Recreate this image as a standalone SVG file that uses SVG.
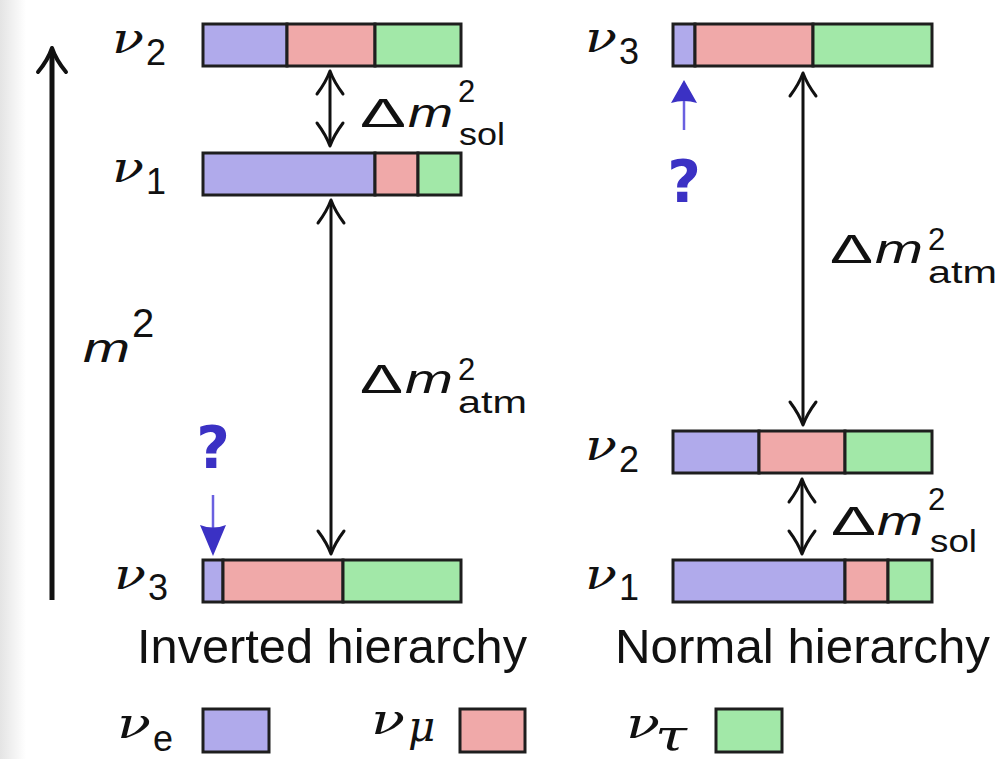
<svg xmlns="http://www.w3.org/2000/svg" width="1004" height="759" viewBox="0 0 1004 759">
<defs>
<linearGradient id="shade" x1="0" y1="0" x2="1" y2="0">
<stop offset="0" stop-color="#e4e4e4"/>
<stop offset="1" stop-color="#ffffff"/>
</linearGradient>
<style>
.b{fill:#b0aaeb;stroke:#1e1e1e;stroke-width:3}
.r{fill:#f0a9a9;stroke:#1e1e1e;stroke-width:3}
.g{fill:#a2e8a8;stroke:#1e1e1e;stroke-width:3}
.nu{font-family:"DejaVu Serif","Liberation Serif",serif;font-style:italic;font-size:42px;fill:#111}
.sub{font-family:"Liberation Sans",sans-serif;font-size:36px;fill:#111}
.big{font-family:"Liberation Sans",sans-serif;font-size:40px;fill:#111}
.it{font-family:"Liberation Sans",sans-serif;font-style:italic;font-size:40px;fill:#111}
.sm{font-family:"Liberation Sans",sans-serif;font-size:31px;fill:#111}
.cap{font-family:"Liberation Sans",sans-serif;font-size:48px;fill:#111}
.q{font-family:"DejaVu Sans",sans-serif;font-weight:bold;font-size:58px;fill:#3b31c4;text-anchor:middle}
.ln{fill:none;stroke:#111;stroke-width:3}
.hd{fill:none;stroke:#111;stroke-width:3;stroke-linejoin:round;stroke-linecap:round}
.bl{fill:none;stroke:#6a60e0;stroke-width:2.5}
.bh{fill:#3b31c4;stroke:none}
</style>
</defs>
<rect x="0" y="0" width="1004" height="759" fill="#ffffff"/>
<rect x="0" y="0" width="26" height="759" fill="url(#shade)"/>

<g id="axis">
<line x1="52" y1="52" x2="52" y2="600" stroke="#111" stroke-width="5"/>
<path d="M38,72 Q48,60 52,48 Q56,60 66,72" fill="none" stroke="#111" stroke-width="4" stroke-linejoin="round" stroke-linecap="round"/>
<text class="it" x="83" y="362" font-size="54" textLength="47" lengthAdjust="spacingAndGlyphs">m</text>
<text class="big" x="132" y="337">2</text>
</g>

<g id="IH-nu2">
<rect class="b" x="203" y="24" width="84" height="42"/>
<rect class="r" x="287" y="24" width="88" height="42"/>
<rect class="g" x="375" y="24" width="86" height="42"/>
<text class="nu" x="112" y="53" textLength="32" lengthAdjust="spacingAndGlyphs">ν</text>
<text class="sub" x="146" y="65">2</text>
</g>
<g id="IH-nu1">
<rect class="b" x="203" y="153" width="172" height="42"/>
<rect class="r" x="375" y="153" width="43" height="42"/>
<rect class="g" x="418" y="153" width="43" height="42"/>
<text class="nu" x="112" y="182" textLength="32" lengthAdjust="spacingAndGlyphs">ν</text>
<text class="sub" x="146" y="194">1</text>
</g>
<g id="IH-nu3">
<rect class="b" x="203" y="560" width="20" height="42"/>
<rect class="r" x="223" y="560" width="120" height="42"/>
<rect class="g" x="343" y="560" width="118" height="42"/>
<text class="nu" x="114" y="589" textLength="32" lengthAdjust="spacingAndGlyphs">ν</text>
<text class="sub" x="148" y="600">3</text>
</g>

<g id="NH-nu3">
<rect class="b" x="673" y="24" width="22" height="42"/>
<rect class="r" x="695" y="24" width="118" height="42"/>
<rect class="g" x="813" y="24" width="119" height="42"/>
<text class="nu" x="585" y="52" textLength="32" lengthAdjust="spacingAndGlyphs">ν</text>
<text class="sub" x="619" y="64">3</text>
</g>
<g id="NH-nu2">
<rect class="b" x="673" y="431" width="86" height="42"/>
<rect class="r" x="759" y="431" width="86" height="42"/>
<rect class="g" x="845" y="431" width="87" height="42"/>
<text class="nu" x="585" y="460" textLength="32" lengthAdjust="spacingAndGlyphs">ν</text>
<text class="sub" x="619" y="472">2</text>
</g>
<g id="NH-nu1">
<rect class="b" x="673" y="560" width="172" height="42"/>
<rect class="r" x="845" y="560" width="43" height="42"/>
<rect class="g" x="888" y="560" width="44" height="42"/>
<text class="nu" x="585" y="589" textLength="32" lengthAdjust="spacingAndGlyphs">ν</text>
<text class="sub" x="619" y="600">1</text>
</g>

<g id="connectors">
<line class="ln" x1="330" y1="72" x2="330" y2="145"/>
<path class="hd" d="M317,94 Q326,82 330,71 Q334,82 343,94"/>
<path class="hd" d="M317,123 Q326,135 330,146 Q334,135 343,123"/>

<line class="ln" x1="331" y1="201" x2="331" y2="553"/>
<path class="hd" d="M318,223 Q327,211 331,200 Q335,211 344,223"/>
<path class="hd" d="M318,531 Q327,543 331,554 Q335,543 344,531"/>

<line class="ln" x1="803" y1="74" x2="803" y2="424"/>
<path class="hd" d="M790,96 Q799,84 803,73 Q807,84 816,96"/>
<path class="hd" d="M790,402 Q799,414 803,425 Q807,414 816,402"/>

<line class="ln" x1="802" y1="480" x2="802" y2="553"/>
<path class="hd" d="M789,502 Q798,490 802,479 Q806,490 815,502"/>
<path class="hd" d="M789,531 Q798,543 802,554 Q806,543 815,531"/>

<line class="bl" x1="213" y1="495" x2="213" y2="530"/>
<path class="bh" d="M213,556 L200,525 Q213,530 226,525 Z"/>

<line class="bl" x1="684" y1="100" x2="684" y2="130"/>
<path class="bh" d="M684,80 L671,103 Q684,99 697,103 Z"/>
</g>

<g id="labels">
<text class="q" x="213" y="468">?</text>
<text class="q" x="684" y="202">?</text>

<text class="big" x="360" y="127" textLength="46" lengthAdjust="spacingAndGlyphs">Δ</text>
<text class="it" x="408" y="127" textLength="45" lengthAdjust="spacingAndGlyphs">m</text>
<text class="sm" x="458" y="102">2</text>
<text class="sm" x="459" y="145" textLength="46" lengthAdjust="spacingAndGlyphs">sol</text>

<text class="big" x="360" y="393" textLength="43" lengthAdjust="spacingAndGlyphs">Δ</text>
<text class="it" x="405" y="393" textLength="48" lengthAdjust="spacingAndGlyphs">m</text>
<text class="sm" x="458" y="380">2</text>
<text class="sm" x="458" y="413" textLength="69" lengthAdjust="spacingAndGlyphs">atm</text>

<text class="big" x="830" y="263" textLength="43" lengthAdjust="spacingAndGlyphs">Δ</text>
<text class="it" x="875" y="263" textLength="48" lengthAdjust="spacingAndGlyphs">m</text>
<text class="sm" x="928" y="250">2</text>
<text class="sm" x="928" y="283" textLength="69" lengthAdjust="spacingAndGlyphs">atm</text>

<text class="big" x="831" y="535" textLength="45" lengthAdjust="spacingAndGlyphs">Δ</text>
<text class="it" x="877" y="535" textLength="46" lengthAdjust="spacingAndGlyphs">m</text>
<text class="sm" x="928" y="510">2</text>
<text class="sm" x="930" y="552" textLength="47" lengthAdjust="spacingAndGlyphs">sol</text>

<text class="cap" x="137" y="663" textLength="390" lengthAdjust="spacingAndGlyphs">Inverted hierarchy</text>
<text class="cap" x="615" y="663" textLength="375" lengthAdjust="spacingAndGlyphs">Normal hierarchy</text>
</g>

<g id="legend">
<text class="nu" x="117" y="738" textLength="34" lengthAdjust="spacingAndGlyphs">ν</text>
<text class="sub" x="153" y="751" font-size="40">e</text>
<rect class="b" x="203" y="709" width="66" height="43"/>
<text class="nu" x="371" y="734" textLength="34" lengthAdjust="spacingAndGlyphs">ν</text>
<text class="nu" x="408" y="741" font-size="36">μ</text>
<rect class="r" x="460" y="709" width="65" height="43"/>
<text class="nu" x="626" y="738" textLength="34" lengthAdjust="spacingAndGlyphs">ν</text>
<text class="nu" x="655" y="750" font-size="38" textLength="32" lengthAdjust="spacingAndGlyphs">τ</text>
<rect class="g" x="716" y="709" width="66" height="43"/>
</g>
</svg>
